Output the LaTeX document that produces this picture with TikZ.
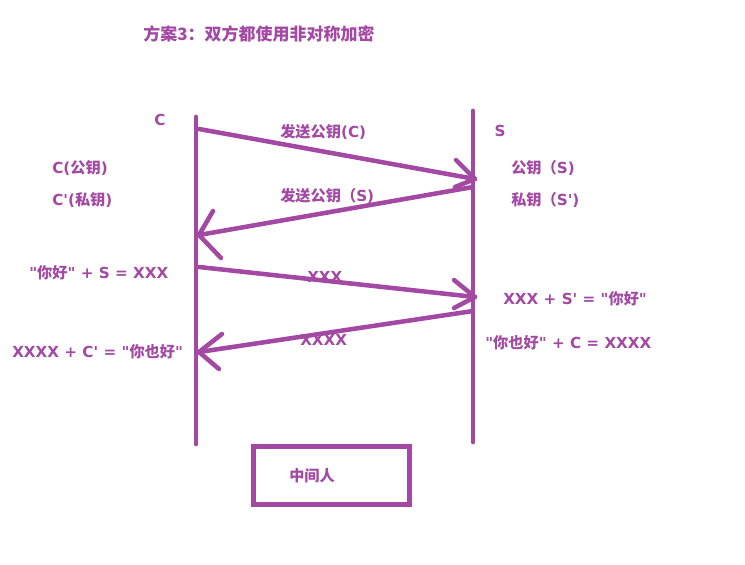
\documentclass[tikz,border=0pt]{standalone}
\usepackage{fontspec}
\newfontfamily\cjk{Noto Sans CJK SC}
\newfontfamily\latf{DejaVu Sans}
\newcommand{\lt}[1]{{\latf\bfseries #1}}
\definecolor{pp}{HTML}{A349A4}
\begin{document}
\begin{tikzpicture}[x=0.75pt,y=-0.75pt,
  ln/.style={draw=pp,line width=3.6pt,line cap=round},
  arw/.style={draw=pp,line width=3.4pt,line cap=round,line join=round},
  lbl/.style={text=pp,inner sep=0pt,font=\cjk\fontsize{11.4pt}{13pt}\selectfont\bfseries},
  lblw/.style={lbl,anchor=west}]
\useasboundingbox (0,0) rectangle (745,564);
% lifelines
\coordinate (c0) at (196,117); \coordinate (c1) at (196,444);
\coordinate (s0) at (473,111); \coordinate (s1) at (473,442);
\draw[ln] (c0) -- (c1);
\draw[ln] (s0) -- (s1);
% message 1
\coordinate (a1s) at (199,129); \coordinate (a1t) at (475,179);
\draw[arw] (a1s) -- (a1t);
\draw[arw] (456,160) -- (a1t) -- (455,187);
% message 2
\coordinate (a2s) at (473,187); \coordinate (a2t) at (199,235);
\draw[arw] (a2s) -- (a2t);
\draw[arw] (213,211) -- (a2t) -- (221,258);
% message 3
\coordinate (a3s) at (199,267); \coordinate (a3t) at (475,297);
\draw[arw] (a3s) -- (a3t);
\draw[arw] (454,280) -- (a3t) -- (454,308);
% message 4
\coordinate (a4s) at (473,311); \coordinate (a4t) at (199,352);
\draw[arw] (a4s) -- (a4t);
\draw[arw] (222,334) -- (a4t) -- (219,369);
% title
\node[lblw,font=\cjk\fontsize{12.75pt}{15pt}\selectfont\bfseries] (title) at (143,34) {方案3：双方都使用非对称加密};
% labels
\node[lbl] (C) at (160,120) {\lt{C}};
\node[lbl] (S) at (500,131) {\lt{S}};
\node[lblw] (cpub) at (52,168) {\lt{C(}公钥\lt{)}};
\node[lblw] (cpriv) at (52,200) {\lt{C'(}私钥\lt{)}};
\node[lblw] (m1) at (280,132) {发送公钥\lt{(C)}};
\node[lblw] (m2) at (280,196) {发送公钥（\lt{S)}};
\node[lblw] (spub) at (511,168) {公钥（\lt{S)}};
\node[lblw] (spriv) at (511,200) {私钥（\lt{S')}};
\node[lblw] (e1) at (29,273) {\lt{"}你好\lt{" + S = XXX}};
\node[lblw] (m3) at (307,277) {\lt{XXX}};
\node[lblw] (d1) at (503,299) {\lt{XXX + S' = "}你好\lt{"}};
\node[lblw] (m4) at (300,340) {\lt{XXXX}};
\node[lblw] (e2) at (485,343) {\lt{"}你也好\lt{" + C = XXXX}};
\node[lblw] (d2) at (12,352) {\lt{XXXX + C' = "}你也好\lt{"}};
% middle man box
\node[draw=pp,line width=3.75pt,minimum width=117pt,minimum height=43.5pt,inner sep=0pt] (mbox) at (331.5,475.5) {};
\node[lblw] (mid) at (289,476) {中间人};
\end{tikzpicture}
\end{document}
